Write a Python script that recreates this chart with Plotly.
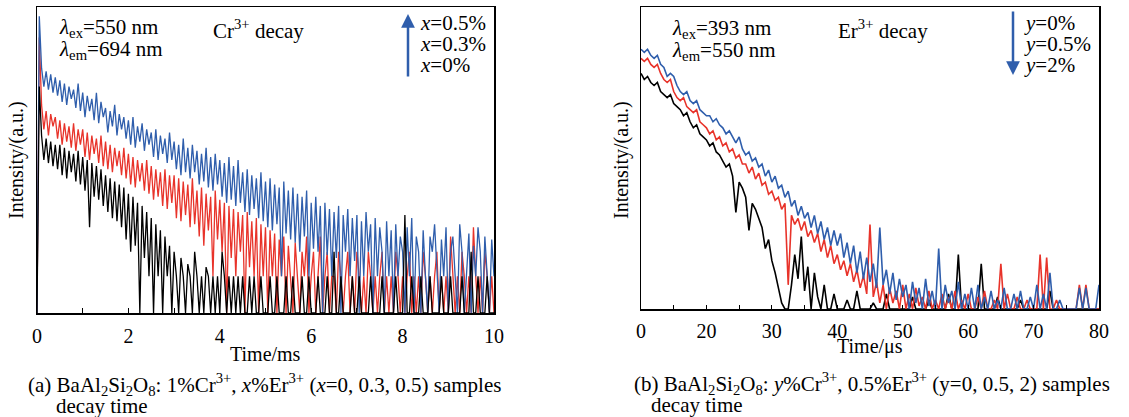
import plotly.graph_objects as go

# ---------------- data ----------------
# panel (a): time in ms, intensity in relative units (0 = bottom, 100 = top of frame)
t_a = [round(0.05 * i, 2) for i in range(201)]

blue_a = [
    0, 97, 80, 74, 79, 73, 78, 72, 77, 71,
    76, 69, 75, 68, 74, 70, 73, 67, 75, 66,
    72, 64, 71, 66, 70, 63, 72, 62, 69, 64,
    67, 59, 66, 61, 68, 58, 65, 60, 64, 57,
    63, 55, 64, 54, 61, 56, 62, 53, 60, 55,
    59, 51, 60, 50, 58, 52, 57, 49, 59, 50,
    56, 47, 55, 45, 57, 46, 54, 44, 55, 46,
    53, 42, 52, 43, 54, 41, 51, 40, 52, 42,
    50, 38, 49, 36, 51, 37, 48, 35, 50, 36,
    46, 33, 47, 32, 45, 34, 44, 31, 46, 30,
    43, 28, 44, 27, 42, 29, 41, 12, 43, 26,
    40, 24, 41, 23, 39, 20, 38, 25, 40, 12,
    36, 21, 38, 20, 35, 0, 36, 19, 34, 12,
    33, 18, 35, 0, 32, 20, 34, 12, 31, 17,
    32, 0, 30, 12, 33, 20, 29, 0, 31, 12,
    28, 20, 0, 30, 12, 27, 0, 29, 12, 25,
    20, 0, 28, 12, 31, 0, 25, 20, 0, 27,
    12, 0, 25, 20, 29, 12, 0, 24, 12, 28,
    0, 20, 25, 12, 0, 29, 20, 0, 12, 26,
    0, 22, 12, 28, 20, 0, 25, 12, 0, 24,
    12]

red_a = [
    0, 90, 68, 60, 66, 58, 65, 61, 64, 57,
    63, 55, 62, 56, 61, 54, 62, 53, 60, 55,
    60, 51, 59, 50, 58, 52, 57, 49, 58, 48,
    56, 47, 55, 46, 54, 48, 53, 45, 54, 44,
    52, 42, 51, 41, 50, 43, 49, 40, 50, 39,
    48, 37, 47, 38, 46, 35, 47, 34, 45, 36,
    45, 31, 44, 30, 43, 32, 42, 28, 44, 29,
    40, 25, 41, 22, 39, 27, 38, 12, 40, 24,
    37, 20, 36, 0, 35, 18, 34, 12, 33, 20,
    32, 0, 33, 15, 30, 12, 31, 0, 29, 12,
    28, 0, 27, 12, 26, 0, 24, 12, 25, 0,
    22, 12, 0, 23, 12, 0, 20, 12, 25, 0,
    12, 20, 0, 12, 25, 0, 12, 20, 0, 12,
    12, 0, 20, 12, 0, 12, 20, 0, 12, 0,
    20, 12, 0, 12, 0, 20, 12, 0, 12, 0,
    12, 20, 0, 12, 0, 12, 0, 20, 12, 0,
    12, 0, 12, 20, 0, 12, 0, 12, 0, 20,
    12, 0, 12, 0, 12, 20, 0, 12, 0, 12,
    0, 25, 12, 0, 12, 0, 20, 12, 0, 12,
    0, 28, 12, 0, 12, 0, 20, 12, 0, 12,
    0]

black_a = [
    0, 74, 58, 50, 57, 49, 56, 48, 55, 47,
    55, 45, 54, 44, 53, 46, 52, 43, 53, 42,
    51, 40, 50, 28, 49, 38, 48, 37, 47, 35,
    45, 33, 44, 31, 43, 30, 42, 28, 41, 24,
    39, 20, 38, 22, 36, 0, 35, 18, 33, 12,
    31, 0, 29, 12, 27, 0, 25, 12, 22, 0,
    20, 12, 0, 18, 12, 0, 16, 12, 0, 20,
    12, 0, 12, 0, 15, 12, 0, 12, 0, 12,
    0, 20, 12, 0, 12, 0, 12, 0, 12, 0,
    12, 0, 0, 12, 0, 12, 0, 0, 12, 0,
    0, 0, 12, 0, 0, 12, 0, 0, 0, 12,
    0, 0, 12, 0, 0, 0, 12, 0, 0, 12,
    0, 0, 0, 12, 0, 0, 0, 12, 0, 0,
    20, 0, 0, 12, 0, 0, 0, 0, 12, 0,
    0, 12, 0, 0, 0, 0, 12, 0, 0, 0,
    0, 12, 0, 0, 0, 0, 0, 12, 0, 0,
    0, 32, 0, 0, 12, 0, 0, 0, 12, 0,
    0, 0, 12, 0, 0, 0, 0, 12, 0, 0,
    0, 12, 0, 0, 0, 0, 12, 0, 0, 0,
    20, 0, 0, 12, 0, 0, 0, 12, 0, 0,
    0]

# panel (b): time in microseconds (axis position), intensity relative units
t_b = [10 + 0.5 * i for i in range(141)]

blue_b = [
    86, 85, 86, 84, 83, 84, 81, 80, 77, 78,
    77, 74, 72, 71, 72, 69, 68, 69, 66, 65,
    64, 64, 62, 63, 61, 60, 58, 59, 57, 55,
    57, 53, 51, 52, 49, 50, 47, 48, 44, 46,
    42, 44, 40, 41, 37, 39, 34, 36, 31, 34,
    30, 32, 27, 31, 25, 29, 23, 27, 21, 26,
    21, 25, 17, 22, 15, 21, 12, 19, 10, 17,
    9, 15, 7, 27, 8, 13, 5, 12, 3, 10,
    4, 8, 0, 9, 2, 7, 0, 10, 1, 6,
    0, 20, 0, 8, 2, 6, 0, 9, 0, 5,
    0, 7, 0, 8, 0, 4, 0, 6, 0, 3,
    0, 7, 0, 0, 5, 0, 6, 0, 0, 4,
    0, 8, 0, 5, 0, 12, 0, 0, 3, 0,
    0, 0, 0, 0, 7, 0, 7, 0, 0, 0,
    8]

red_b = [
    83, 82, 83, 81, 80, 81, 78, 76, 75, 76,
    72, 70, 69, 70, 67, 66, 65, 66, 62, 61,
    60, 58, 59, 56, 57, 54, 55, 52, 53, 50,
    51, 48, 48, 45, 47, 43, 45, 41, 42, 38,
    39, 36, 37, 33, 35, 8, 31, 28, 30, 26,
    29, 24, 26, 22, 25, 19, 23, 17, 21, 15,
    18, 13, 16, 11, 15, 9, 13, 7, 11, 5,
    28, 4, 9, 2, 8, 0, 7, 2, 6, 0,
    8, 0, 5, 0, 7, 1, 4, 0, 6, 0,
    3, 0, 5, 0, 4, 0, 6, 0, 3, 0,
    5, 0, 0, 4, 0, 6, 0, 0, 3, 0,
    15, 0, 5, 0, 0, 4, 0, 0, 3, 0,
    0, 0, 18, 0, 17, 0, 0, 3, 0, 0,
    0, 0, 0, 0, 8, 0, 8, 0, 0, 0,
    0]

black_b = [
    78, 76, 77, 75, 74, 75, 72, 71, 70, 71,
    68, 67, 66, 64, 65, 62, 60, 61, 58, 57,
    56, 54, 55, 52, 51, 49, 47, 48, 44, 32,
    42, 40, 37, 26, 35, 33, 30, 27, 20, 23,
    16, 12, 7, 2, 0, 0, 8, 18, 10, 24,
    6, 14, 0, 12, 4, 0, 8, 0, 0, 5,
    0, 0, 0, 3, 0, 0, 6, 0, 0, 0,
    0, 2, 0, 0, 0, 5, 0, 0, 0, 0,
    0, 0, 0, 4, 0, 0, 0, 0, 3, 0,
    0, 0, 0, 0, 5, 0, 0, 18, 0, 0,
    0, 0, 0, 0, 15, 0, 0, 0, 0, 4,
    0, 0, 0, 0, 0, 0, 3, 0, 0, 0,
    0, 0, 0, 0, 0, 6, 0, 0, 0, 0,
    0, 0, 0, 0, 0, 0, 0, 0, 0, 0,
    0]

ticks_a = [0, 2, 4, 6, 8, 10]
ticks_b = [10, 20, 30, 40, 50, 60, 70, 80]
ticklabels_b = ["0", "20", "30", "40", "50", "60", "70", "80"]

# ---------------- styling ----------------
W, H = 1129, 417
BLUE = "#2f5eac"
RED = "#e8332a"
BLACK = "#000000"
FONT = "Liberation Serif, Times New Roman, serif"


def px(x):
    return x / W


def py(y):
    return 1 - y / H


fig = go.Figure()
for y, c in [(red_a, RED), (blue_a, BLUE), (black_a, BLACK)]:
    fig.add_trace(go.Scatter(x=t_a, y=y, mode="lines", xaxis="x", yaxis="y",
                             line=dict(color=c, width=1.3), hoverinfo="skip"))
for y, c in [(black_b, BLACK), (red_b, RED), (blue_b, BLUE)]:
    fig.add_trace(go.Scatter(x=t_b, y=y, mode="lines", xaxis="x2", yaxis="y2",
                             line=dict(color=c, width=1.6), hoverinfo="skip"))

axis_common = dict(showline=True, linecolor="black", linewidth=1.5, mirror=True,
                   showgrid=False, zeroline=False, automargin=False)

fig.update_layout(
    width=W, height=H, margin=dict(l=0, r=0, t=0, b=0, autoexpand=False),
    paper_bgcolor="white", plot_bgcolor="white", showlegend=False,
    font=dict(family=FONT, size=20, color="black"),
    xaxis=dict(domain=[px(37), px(494)], range=[0, 10], anchor="y",
               tickvals=ticks_a, ticks="inside", ticklen=5, tickcolor="black",
               minor=dict(tickvals=[1, 3, 5, 7, 9], ticks="inside", ticklen=5, tickcolor="black"),
               tickfont=dict(family=FONT, size=20, color="black"), ticklabelstandoff=4,
               **axis_common),
    yaxis=dict(domain=[1 - 313 / H, 1 - 7 / H], range=[0, 100], anchor="x",
               showticklabels=False, ticks="", **axis_common),
    xaxis2=dict(domain=[px(641), px(1099)], range=[10, 80], anchor="y2",
                tickvals=ticks_b, ticktext=ticklabels_b, ticks="inside", ticklen=4,
                tickcolor="black",
                minor=dict(tickvals=[15, 25, 35, 45, 55, 65, 75], ticks="inside", ticklen=4,
                           tickcolor="black"),
                tickfont=dict(family=FONT, size=20, color="black"), ticklabelstandoff=3,
                **axis_common),
    yaxis2=dict(domain=[1 - 309 / H, 1 - 7 / H], range=[0, 100], anchor="x2",
                showticklabels=False, ticks="", **axis_common),
)

ann = []


def text(x, y, s, size=21, xanchor="left", angle=0):
    ann.append(dict(x=px(x), y=py(y), xref="paper", yref="paper", text=s,
                    showarrow=False, xanchor=xanchor, yanchor="middle",
                    textangle=angle, font=dict(family=FONT, size=size, color="black")))


# panel (a)
text(57, 28, "<i>λ</i><sub>ex</sub>=550 nm")
text(57, 50, "<i>λ</i><sub>em</sub>=694 nm")
text(211, 29, "Cr<sup>3+</sup> decay")
text(418, 23, "<i>x</i>=0.5%")
text(418, 44, "<i>x</i>=0.3%")
text(418, 65, "<i>x</i>=0%")
text(265, 354, "Time/ms", size=20, xanchor="center")
text(16, 160, "Intensity/(a.u.)", size=20, xanchor="center", angle=-90)
text(26, 384, "(a) BaAl<sub>2</sub>Si<sub>2</sub>O<sub>8</sub>: 1%Cr<sup>3+</sup>, "
              "<i>x</i>%Er<sup>3+</sup> (<i>x</i>=0, 0.3, 0.5) samples", size=21)
text(54, 406, "decay time", size=21)

# panel (b)
text(670, 29, "<i>λ</i><sub>ex</sub>=393 nm")
text(670, 51, "<i>λ</i><sub>em</sub>=550 nm")
text(836, 29, "Er<sup>3+</sup> decay")
text(1022, 23, "<i>y</i>=0%")
text(1022, 44, "<i>y</i>=0.5%")
text(1022, 65, "<i>y</i>=2%")
text(870, 346, "Time/μs", size=20, xanchor="center")
text(621, 160, "Intensity/(a.u.)", size=20, xanchor="center", angle=-90)
text(632, 383, "(b) BaAl<sub>2</sub>Si<sub>2</sub>O<sub>8</sub>: <i>y</i>%Cr<sup>3+</sup>, "
               "0.5%Er<sup>3+</sup> (y=0, 0.5, 2) samples", size=21)
text(649, 405, "decay time", size=21)

# arrows
ann.append(dict(x=px(408), y=py(14), xref="paper", yref="paper", ax=0, ay=64,
                axref="pixel", ayref="pixel", text="", showarrow=True, arrowhead=2,
                arrowsize=1.1, arrowwidth=2.5, arrowcolor=BLUE))
ann.append(dict(x=px(1013), y=py(75), xref="paper", yref="paper", ax=0, ay=-65,
                axref="pixel", ayref="pixel", text="", showarrow=True, arrowhead=2,
                arrowsize=1.1, arrowwidth=2.5, arrowcolor=BLUE))

fig.update_layout(annotations=ann)
fig.write_html("out.html",
               config={"displayModeBar": False, "staticPlot": True},
               post_script="document.body.style.margin='0px';"
                           "document.body.style.overflow='hidden';")
